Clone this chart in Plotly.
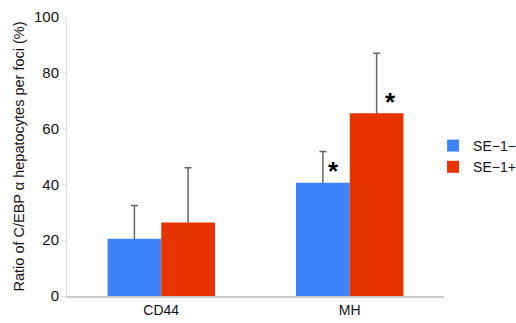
import plotly.graph_objects as go

categories = ["CD44", "MH"]
se1_minus = [20.5, 40.6]
se1_minus_err = [11.9, 11.2]
se1_plus = [26.3, 65.5]
se1_plus_err = [19.7, 21.5]
y_ticks = [0, 20, 40, 60, 80, 100]

blue = "#3f83f8"
red = "#e63300"
errc = "#666666"
cap_hide = 0.8  # start the error whisker just below the bar top so its lower cap is hidden

fig = go.Figure()
# error bars drawn first (transparent bars), so the coloured bars cover their lower caps
for vals, errs, grp in [(se1_minus, se1_minus_err, "a"), (se1_plus, se1_plus_err, "b")]:
    fig.add_trace(go.Bar(
        x=categories, y=[v - cap_hide for v in vals], offsetgroup=grp,
        showlegend=False, hoverinfo="skip",
        marker=dict(color="rgba(0,0,0,0)", line=dict(width=0)),
        error_y=dict(type="data", array=[e + cap_hide for e in errs], symmetric=False,
                     arrayminus=[0, 0], color=errc, thickness=1.5, width=3.5),
    ))
fig.add_trace(go.Bar(x=categories, y=se1_minus, name="SE\u22121\u2212",
                     offsetgroup="a", marker=dict(color=blue, line=dict(width=0))))
fig.add_trace(go.Bar(x=categories, y=se1_plus, name="SE\u22121+",
                     offsetgroup="b", marker=dict(color=red, line=dict(width=0))))

# significance asterisks on MH
fig.add_annotation(x="MH", y=se1_minus[1] + 5, text="<b>*</b>", showarrow=False,
                   xshift=-16, yshift=-2, font=dict(size=26, color="black"))
fig.add_annotation(x="MH", y=se1_plus[1] + 5, text="<b>*</b>", showarrow=False,
                   xshift=41, yshift=-3, font=dict(size=26, color="black"))

# y-axis title
fig.add_annotation(xref="paper", yref="paper", x=0, xshift=-49, xanchor="center",
                   y=0.5, yanchor="middle", textangle=-90, showarrow=False,
                   text="Ratio of C/EBP \u03b1 hepatocytes per foci (%)",
                   font=dict(size=14.5))

fig.update_layout(
    width=516, height=323,
    margin=dict(l=67, r=72, t=17, b=27, autoexpand=False),
    paper_bgcolor="white", plot_bgcolor="white",
    barmode="group", bargap=0.43, bargroupgap=0,
    font=dict(family="Liberation Sans, Arial, sans-serif", size=13, color="#111"),
    legend=dict(x=0.971, y=0.5, yanchor="middle", xanchor="left",
                bgcolor="rgba(0,0,0,0)",
                font=dict(size=14), itemwidth=30, tracegroupgap=0),
    showlegend=True,
)
fig.update_xaxes(showline=True, linecolor="#cccccc", linewidth=1.5, automargin=False,
                 ticks="", showgrid=False, tickfont=dict(size=14))
fig.update_yaxes(range=[0, 100], tickvals=y_ticks, showline=True, linecolor="#dddddd",
                 linewidth=1, ticks="outside", ticklen=4, tickcolor="#dddddd",
                 automargin=False, showgrid=False, zeroline=False,
                 tickfont=dict(size=15))

fig.write_html("out.html", config={"displayModeBar": False},
               post_script="document.body.style.margin='0';document.body.style.overflow='hidden';")
